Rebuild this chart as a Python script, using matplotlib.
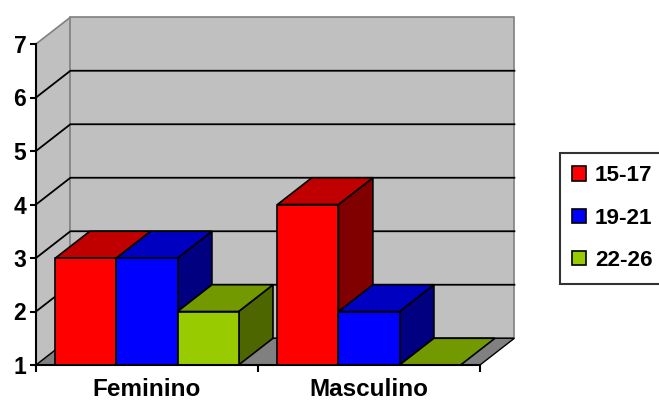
import matplotlib.pyplot as plt
from matplotlib.patches import Polygon, Patch

plt.rcParams['font.family'] = ['Liberation Sans', 'DejaVu Sans']

categories = ["Feminino", "Masculino"]
groups = ["15-17", "19-21", "22-26"]
values = {
    "15-17": [3, 4],
    "19-21": [3, 2],
    "22-26": [2, 1],
}
# front / top / side shades for each series
shades = {
    "15-17": ("#ff0000", "#c00000", "#800000"),
    "19-21": ("#0000ff", "#0000c0", "#000080"),
    "22-26": ("#99cc00", "#739900", "#4d6600"),
}

ymin, ymax = 1, 7
dx, dy = 0.155, 0.5      # depth offset in data units
bw = 0.275               # bar width

fig = plt.figure(figsize=(6.59, 4.01), dpi=100)
ax = fig.add_axes([36 / 659, 36 / 401, 444 / 659, 321 / 401])
ax.set_xlim(0, len(categories))
ax.set_ylim(ymin, ymax)
ax.patch.set_visible(False)

wall = "#c0c0c0"
edge = "#808080"
nc = len(categories)


def poly(pts, fc, ec="black", lw=1.2, z=1):
    ax.add_patch(Polygon(pts, closed=True, facecolor=fc, edgecolor=ec,
                         linewidth=lw, zorder=z, clip_on=False,
                         joinstyle="miter"))


# side wall, back wall and floor
poly([(0, ymin), (0, ymax), (dx, ymax + dy), (dx, ymin + dy)], wall, edge, 1.2, 0.5)
poly([(dx, ymin + dy), (dx, ymax + dy), (nc + dx, ymax + dy), (nc + dx, ymin + dy)],
     wall, edge, 1.2, 0.5)
poly([(0, ymin), (dx, ymin + dy), (nc + dx, ymin + dy), (nc, ymin)], "#808080", "black", 1.0, 0.6)

# gridlines on both walls
for v in range(ymin + 1, ymax):
    ax.plot([0, dx, nc + dx], [v, v + dy, v + dy], color="black", lw=1.3,
            zorder=0.8, clip_on=False)

# bars, drawn left to right so each hides its neighbour's side face
for c in range(nc):
    left0 = c + 0.5 - 1.5 * bw
    for i, g in enumerate(groups):
        v = values[g][c]
        x0 = left0 + i * bw
        x1 = x0 + bw
        front, top, side = shades[g]
        if v > ymin:
            poly([(x1, ymin), (x1 + dx, ymin + dy), (x1 + dx, v + dy), (x1, v)], side, z=3)
        poly([(x0, v), (x0 + dx, v + dy), (x1 + dx, v + dy), (x1, v)], top, z=3)
        if v > ymin:
            poly([(x0, ymin), (x0, v), (x1, v), (x1, ymin)], front, z=3)

for s in ["top", "right"]:
    ax.spines[s].set_visible(False)
for s in ["left", "bottom"]:
    ax.spines[s].set_linewidth(1.5)
    ax.spines[s].set_zorder(4)

ax.set_yticks(range(ymin, ymax + 1))
ax.tick_params(axis="y", length=4, width=1.5, pad=3, labelsize=16.5)
for lab in ax.get_yticklabels():
    lab.set_fontweight("bold")

ax.set_xticks(range(nc + 1))
ax.set_xticklabels([])
ax.set_xticks([c + 0.5 for c in range(nc)], minor=True)
ax.set_xticklabels(categories, minor=True, fontsize=17.5, fontweight="bold")
ax.tick_params(axis="x", which="major", length=5, width=1.5)
ax.tick_params(axis="x", which="minor", length=0, pad=9)

handles = [Patch(facecolor=shades[g][0], edgecolor="black", linewidth=1.2, label=g)
           for g in groups]
leg = fig.legend(handles=handles, loc="upper left",
                 bbox_to_anchor=(560 / 659, 1 - 153 / 401),
                 frameon=True, fancybox=False, borderaxespad=0,
                 handlelength=0.6, handleheight=0.6, handletextpad=0.4,
                 labelspacing=0.95, borderpad=0.55,
                 prop={"size": 16.2, "weight": "bold"})
leg.get_frame().set_edgecolor("black")
leg.get_frame().set_linewidth(1.5)

fig.savefig("out.png", dpi=100)
